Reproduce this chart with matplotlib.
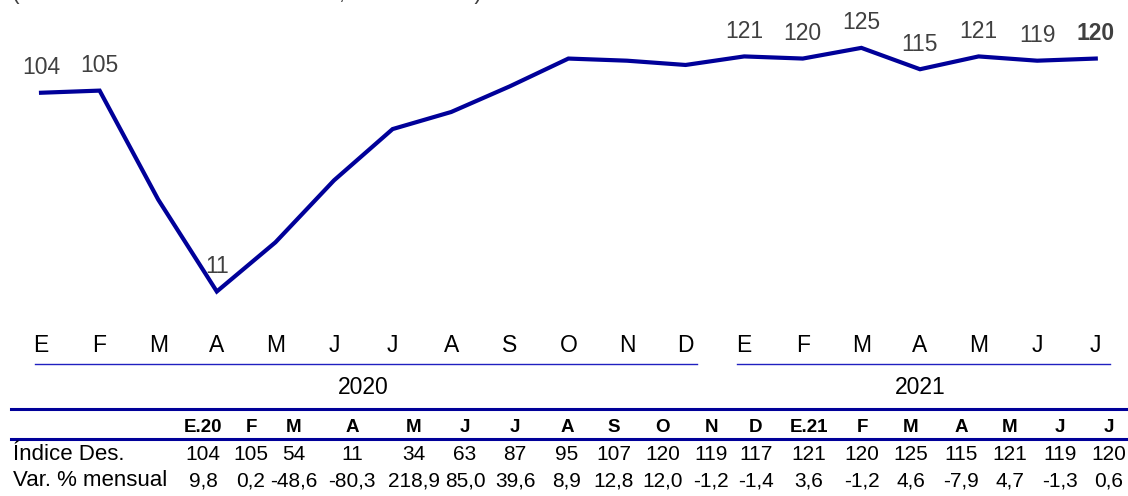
import matplotlib.pyplot as plt
import matplotlib.transforms as mtransforms

plt.rcParams['font.family'] = ['Liberation Sans', 'DejaVu Sans']

# data
meses = ["E", "F", "M", "A", "M", "J", "J", "A", "S", "O", "N", "D",
         "E", "F", "M", "A", "M", "J", "J"]
cabecera = ["E.20", "F", "M", "A", "M", "J", "J", "A", "S", "O", "N", "D",
            "E.21", "F", "M", "A", "M", "J", "J"]
indice = [104, 105, 54, 11, 34, 63, 87, 95, 107, 120, 119, 117,
          121, 120, 125, 115, 121, 119, 120]
var_mensual = ["9,8", "0,2", "-48,6", "-80,3", "218,9", "85,0", "39,6", "8,9",
               "12,8", "12,0", "-1,2", "-1,4", "3,6", "-1,2", "4,6", "-7,9",
               "4,7", "-1,3", "0,6"]
etiquetados = [0, 1, 3, 12, 13, 14, 15, 16, 17, 18]
anios = ["2020", "2021"]

W, H = 1128, 496
azul = "#000099"

fig = plt.figure(figsize=(W / 100, H / 100), dpi=100)
ax = fig.add_axes([0, 1 - 315 / H, 1, 315 / H])
x = list(range(len(indice)))
ax.plot(x, indice, color=azul, lw=3, solid_joinstyle="miter")
ax.set_xlim(-0.7, 18.55)
ax.set_ylim(0, 147.4)
ax.set_yticks([])
ax.set_xticks(x)
ax.set_xticklabels(meses, fontsize=16.5)
ax.tick_params(axis="x", length=0, pad=14)
for s in ax.spines.values():
    s.set_visible(False)

for i in etiquetados:
    ax.annotate(str(indice[i]), (i, indice[i]), xytext=(0, 18),
                textcoords="offset points", ha="center", va="center",
                fontsize=16.5, color="#404040",
                fontweight="bold" if i == len(indice) - 1 else "normal")

# subtitle cut at the top of the picture
fig.text(12 / W, 1 + 1 / H, "(Índice desestacionalizado 2020, enero = 100)",
         fontsize=16.5, color="#404040", va="baseline", ha="left")

# year underlines and labels
trans = mtransforms.blended_transform_factory(ax.transData, fig.transFigure)
for x0, x1, xc, lab in [(-0.1, 11.2, 5.5, anios[0]), (11.88, 18.24, 15, anios[1])]:
    ax.plot([x0, x1], [1 - 364 / H] * 2, color="#2020c0", lw=1,
            transform=trans, clip_on=False)
    ax.text(xc, 1 - 388 / H, lab, fontsize=16.5, ha="center", va="center",
            transform=trans)

# table
def fy(py):
    return 1 - py / H

fig.add_artist(plt.Line2D([11 / W, 1], [fy(409)] * 2, color=azul, lw=2.2))
fig.add_artist(plt.Line2D([11 / W, 1], [fy(439)] * 2, color=azul, lw=2.2))

col_x = [203, 251, 294, 352, 414, 465, 515, 567, 614, 663, 711, 756,
         809, 862, 911, 961, 1010, 1060, 1109]
for cx, h, v, p in zip(col_x, cabecera, indice, var_mensual):
    fig.text(cx / W, fy(427), h, fontsize=13.5, fontweight="bold",
             ha="center", va="center")
    fig.text(cx / W, fy(455), str(v), fontsize=15, ha="center", va="center")
    fig.text(cx / W, fy(481), p, fontsize=15, ha="center", va="center")

fig.text(13 / W, fy(455), "Índice Des.", fontsize=16, ha="left", va="center")
fig.text(13 / W, fy(481), "Var. % mensual", fontsize=16, ha="left", va="center")

fig.savefig("out.png", dpi=100)
